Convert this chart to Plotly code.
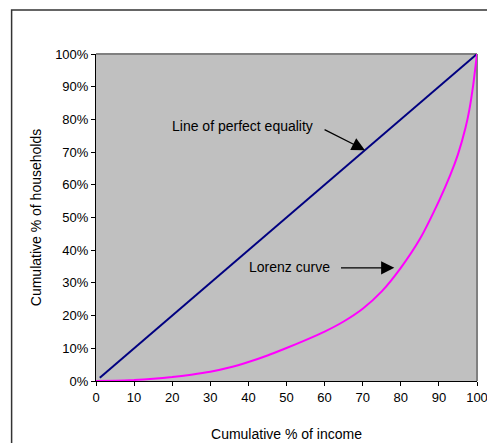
import plotly.graph_objects as go

# Data (percent)
equality_x = [1, 100]
equality_y = [1, 100]

lorenz_x = [0, 5, 10, 15, 20, 25, 30, 35, 40, 45, 50, 55, 60, 65, 70, 75, 80, 85, 90, 93, 95, 97, 98, 99, 100]
lorenz_y = [0, 0.1, 0.3, 0.7, 1.2, 1.9, 2.8, 4.1, 5.8, 7.8, 10.1, 12.5, 15.1, 18.2, 22.1, 27.4, 34.6, 43.4, 55.0, 63.0, 69.3, 77.5, 83.0, 90.5, 100]

x_ticks = [0, 10, 20, 30, 40, 50, 60, 70, 80, 90, 100]
y_ticks = [0, 10, 20, 30, 40, 50, 60, 70, 80, 90, 100]
y_ticklabels = [f"{v}%" for v in y_ticks]

FONT = "Liberation Sans, Arial, sans-serif"

fig = go.Figure()
fig.add_trace(go.Scatter(x=equality_x, y=equality_y, mode="lines",
                         line=dict(color="#000080", width=2), name="Line of perfect equality",
                         hoverinfo="skip"))
fig.add_trace(go.Scatter(x=lorenz_x, y=lorenz_y, mode="lines",
                         line=dict(color="#FF00FF", width=2, shape="spline", smoothing=0.5),
                         name="Lorenz curve", hoverinfo="skip"))

fig.update_layout(
    width=487, height=435,
    margin=dict(l=87.5, r=18, t=46, b=62, autoexpand=False),
    paper_bgcolor="white",
    plot_bgcolor="#C0C0C0",
    showlegend=False,
    font=dict(family=FONT, size=13, color="black"),
    xaxis=dict(range=[0, 100], tickmode="array", tickvals=x_ticks, automargin=False,
               showgrid=False, zeroline=False, showline=True, linecolor="black", linewidth=1,
               ticks="outside", ticklen=4, tickcolor="black",
               title=dict(text="Cumulative % of income", font=dict(size=14), standoff=25)),
    yaxis=dict(range=[0, 100], tickmode="array", tickvals=y_ticks, ticktext=y_ticklabels,
               automargin=False,
               showgrid=False, zeroline=False, showline=True, linecolor="black", linewidth=1,
               ticks="outside", ticklen=4, tickcolor="black",
               title=dict(text="Cumulative % of households", font=dict(size=14), standoff=10)),
)

# plot area top/right gray border
fig.add_shape(type="line", xref="paper", yref="paper", x0=0, x1=1, y0=1, y1=1,
              line=dict(color="#808080", width=2), layer="below")
fig.add_shape(type="line", xref="paper", yref="paper", x0=1, x1=1, y0=0, y1=1,
              line=dict(color="#808080", width=2), layer="below")

# outer chart frame
fig.add_shape(type="rect", xref="paper", yref="paper", x0=-0.2215, x1=1.3, y0=-0.4, y1=1.1346,
              line=dict(color="#333333", width=1.5), layer="below")

fig.add_annotation(x=70.6, y=70.6, ax=59.6, ay=77.1, xref="x", yref="y", axref="x", ayref="y",
                   text="", showarrow=True, arrowhead=2, arrowsize=2.2, arrowwidth=1.2,
                   arrowcolor="black")
fig.add_annotation(x=57.5, y=77.9, xref="x", yref="y", text="Line of perfect equality",
                   showarrow=False, xanchor="right", font=dict(size=14))

fig.add_annotation(x=78.3, y=34.6, ax=63.9, ay=34.6, xref="x", yref="y", axref="x", ayref="y",
                   text="", showarrow=True, arrowhead=2, arrowsize=2.2, arrowwidth=1.2,
                   arrowcolor="black")
fig.add_annotation(x=62.0, y=34.8, xref="x", yref="y", text="Lorenz curve",
                   showarrow=False, xanchor="right", font=dict(size=14))

fig.write_html("out.html")
